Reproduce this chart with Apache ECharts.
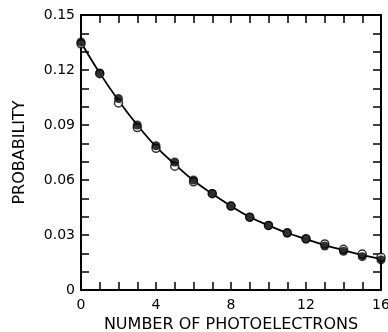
<!DOCTYPE html>
<html><head><meta charset="utf-8">
<script src="https://cdn.jsdelivr.net/npm/echarts@6/dist/echarts.min.js"></script>
<style>html,body{margin:0;padding:0;background:#fff}#c{width:388px;height:332px}</style>
</head><body><div id="c"></div>
<script>
const xValues = [0,1,2,3,4,5,6,7,8,9,10,11,12,13,14,15,16];
const filledValues = [0.1353,0.1184,0.1044,0.0900,0.0787,0.0698,0.0600,0.0527,0.0458,0.0397,0.0352,0.0311,0.0278,0.0240,0.0211,0.0182,0.0164];
const openValues = [0.1343,0.1180,0.1020,0.0886,0.0773,0.0675,0.0590,0.0525,0.0458,0.0397,0.0352,0.0312,0.0280,0.0251,0.0222,0.0196,0.0178];
const curveValues = [0.1350,0.1183,0.1034,0.0900,0.0782,0.0686,0.0597,0.0525,0.0458,0.0398,0.0352,0.0311,0.0278,0.0245,0.0217,0.0190,0.0170];
const xTicks = {min:0,max:16,major:4,minor:4};
const yTicks = {min:0,max:0.15,major:0.03,minor:3};
const xTitle = 'NUMBER OF PHOTOELECTRONS';
const yTitle = 'PROBABILITY';

const font = 'DejaVu Sans';
const axisLine = {show:true,onZero:false,lineStyle:{color:'#000',width:2}};
const tick = {show:true,inside:true,length:8,lineStyle:{color:'#000',width:1.5}};
const minor = {show:true,splitNumber:0,length:8,lineStyle:{color:'#000',width:1.5}};

function xAx(pos, labels){
  return {type:'value',position:pos,min:xTicks.min,max:xTicks.max,interval:xTicks.major,
    axisLine:axisLine,axisTick:tick,minorTick:Object.assign({},minor,{splitNumber:xTicks.minor}),
    splitLine:{show:false},minorSplitLine:{show:false},
    axisLabel:{show:labels,color:'#000',fontFamily:font,fontSize:14,margin:8},
    name:labels?xTitle:'',nameLocation:'middle',nameGap:27,
    nameTextStyle:{color:'#000',fontFamily:font,fontSize:16}};
}
function yAx(pos, labels){
  return {type:'value',position:pos,min:yTicks.min,max:yTicks.max,interval:yTicks.major,
    axisLine:axisLine,axisTick:tick,minorTick:Object.assign({},minor,{splitNumber:yTicks.minor}),
    splitLine:{show:false},minorSplitLine:{show:false},
    axisLabel:{show:labels,color:'#000',fontFamily:font,fontSize:14,margin:6,
      formatter:v=>v===0?'0':v.toFixed(2)},
    name:labels?yTitle:'',nameLocation:'middle',nameGap:53,
    nameTextStyle:{color:'#000',fontFamily:font,fontSize:16}};
}
const chart = echarts.init(document.getElementById('c'),null,{renderer:'canvas'});
chart.setOption({
  animation:false,
  backgroundColor:'#fff',
  grid:{left:81,right:7,top:15,bottom:42,containLabel:false,outerBoundsMode:'none'},
  xAxis:[xAx('bottom',true),xAx('top',false)],
  yAxis:[yAx('left',true),yAx('right',false)],
  series:[
    {type:'line',data:xValues.map((x,i)=>[x,curveValues[i]]),smooth:0.4,showSymbol:false,
      lineStyle:{color:'#000',width:1.8},z:1},
    {type:'scatter',data:xValues.map((x,i)=>[x,openValues[i]]),symbol:'circle',symbolSize:8,
      itemStyle:{color:'#fff',borderColor:'#000',borderWidth:1.5},z:2},
    {type:'scatter',data:xValues.map((x,i)=>[x,filledValues[i]]),symbol:'circle',symbolSize:9,
      itemStyle:{color:'#000'},z:3}
  ]
});
</script></body></html>
